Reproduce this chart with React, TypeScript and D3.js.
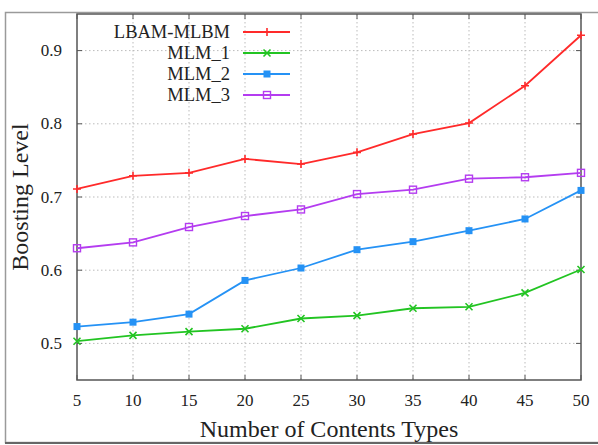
import React, { useEffect, useRef } from "react";
import * as d3 from "d3";

const contentTypes = [5, 10, 15, 20, 25, 30, 35, 40, 45, 50];
const lbamMlbm = [0.711, 0.729, 0.733, 0.752, 0.745, 0.761, 0.786, 0.801, 0.852, 0.921];
const mlm1 = [0.503, 0.511, 0.516, 0.52, 0.534, 0.538, 0.548, 0.55, 0.569, 0.601];
const mlm2 = [0.523, 0.529, 0.54, 0.586, 0.603, 0.628, 0.639, 0.654, 0.67, 0.709];
const mlm3 = [0.63, 0.638, 0.659, 0.674, 0.683, 0.704, 0.71, 0.725, 0.727, 0.733];
const yTicks = [0.5, 0.6, 0.7, 0.8, 0.9];

const seriesList = [
  { name: "LBAM-MLBM", values: lbamMlbm, color: "#ff2a2a", marker: "plus" },
  { name: "MLM_1", values: mlm1, color: "#22c422", marker: "cross" },
  { name: "MLM_2", values: mlm2, color: "#2592f5", marker: "filled" },
  { name: "MLM_3", values: mlm3, color: "#b43cf0", marker: "open" },
];

const FONT = "'Liberation Serif', serif";

function drawMarker(g: any, type: string, x: number, y: number, color: string) {
  if (type === "plus") {
    g.append("path").attr("d", `M${x - 4},${y}H${x + 4}M${x},${y - 4}V${y + 4}`)
      .attr("stroke", color).attr("stroke-width", 1.6);
  } else if (type === "cross") {
    g.append("path").attr("d", `M${x - 3.5},${y - 3.5}L${x + 3.5},${y + 3.5}M${x - 3.5},${y + 3.5}L${x + 3.5},${y - 3.5}`)
      .attr("stroke", color).attr("stroke-width", 1.6);
  } else if (type === "filled") {
    g.append("rect").attr("x", x - 3.5).attr("y", y - 3.5).attr("width", 7).attr("height", 7)
      .attr("fill", color);
  } else {
    g.append("rect").attr("x", x - 3.5).attr("y", y - 3.5).attr("width", 7).attr("height", 7)
      .attr("fill", "none").attr("stroke", color).attr("stroke-width", 1.4);
  }
}

export default function App() {
  const ref = useRef<SVGSVGElement>(null);

  useEffect(() => {
    const svg = d3.select(ref.current);
    svg.selectAll("*").remove();

    const left = 77, right = 581, top = 14, bottom = 380;

    // outer frame
    svg.append("rect").attr("x", 5.5).attr("y", 12.5).attr("width", 600).attr("height", 430)
      .attr("fill", "white").attr("stroke", "#9a9a9a").attr("stroke-width", 1.5);
    svg.append("line").attr("x1", 5).attr("x2", 598).attr("y1", 443).attr("y2", 443)
      .attr("stroke", "#666").attr("stroke-width", 2);

    const x = d3.scaleLinear().domain([5, 50]).range([left, right]);
    const y = d3.scaleLinear().domain([0.45, 0.95]).range([bottom, top]);

    const grid = svg.append("g");
    contentTypes.slice(1, -1).forEach((t) => {
      grid.append("line").attr("x1", x(t)).attr("x2", x(t)).attr("y1", top).attr("y2", bottom)
        .attr("stroke", "#bbb").attr("stroke-dasharray", "1.5,2.5");
    });
    yTicks.forEach((t) => {
      grid.append("line").attr("x1", left).attr("x2", right).attr("y1", y(t)).attr("y2", y(t))
        .attr("stroke", "#bbb").attr("stroke-dasharray", "1.5,2.5");
    });

    // ticks
    const ticks = svg.append("g").attr("stroke", "#555").attr("stroke-width", 1);
    contentTypes.forEach((t) => {
      ticks.append("line").attr("x1", x(t)).attr("x2", x(t)).attr("y1", bottom).attr("y2", bottom - 5);
      ticks.append("line").attr("x1", x(t)).attr("x2", x(t)).attr("y1", top).attr("y2", top + 5);
    });
    yTicks.forEach((t) => {
      ticks.append("line").attr("x1", left).attr("x2", left + 5).attr("y1", y(t)).attr("y2", y(t));
      ticks.append("line").attr("x1", right).attr("x2", right - 5).attr("y1", y(t)).attr("y2", y(t));
    });

    svg.append("rect").attr("x", left).attr("y", top).attr("width", right - left).attr("height", bottom - top)
      .attr("fill", "none").attr("stroke", "#555").attr("stroke-width", 1.5);

    const txt = svg.append("g").style("font-family", FONT).attr("fill", "#222");
    contentTypes.forEach((t) => {
      txt.append("text").attr("x", x(t)).attr("y", 406).attr("text-anchor", "middle")
        .attr("font-size", 17).text(t);
    });
    yTicks.forEach((t) => {
      txt.append("text").attr("x", 62).attr("y", y(t) + 5.5).attr("text-anchor", "end")
        .attr("font-size", 17).text(d3.format(".1f")(t));
    });
    txt.append("text").attr("x", 329).attr("y", 437).attr("text-anchor", "middle")
      .attr("font-size", 24).text("Number of Contents Types");
    txt.append("text").attr("transform", `translate(28,${(top + bottom) / 2}) rotate(-90)`)
      .attr("text-anchor", "middle").attr("font-size", 24).text("Boosting Level");

    const line = d3.line<number>().x((_, i) => x(contentTypes[i])).y((d) => y(d));
    seriesList.forEach((s) => {
      const g = svg.append("g");
      g.append("path").attr("d", line(s.values)).attr("fill", "none")
        .attr("stroke", s.color).attr("stroke-width", 1.8);
      s.values.forEach((v, i) => drawMarker(g, s.marker, x(contentTypes[i]), y(v), s.color));
    });

    // legend
    seriesList.forEach((s, i) => {
      const ly = 32 + i * 21;
      const g = svg.append("g");
      g.append("text").attr("x", 230).attr("y", ly + 6).attr("text-anchor", "end")
        .style("font-family", FONT).attr("font-size", 18.5).attr("fill", "#222").text(s.name);
      g.append("line").attr("x1", 243).attr("x2", 290).attr("y1", ly).attr("y2", ly)
        .attr("stroke", s.color).attr("stroke-width", 1.8);
      drawMarker(g, s.marker, 267, ly, s.color);
    });
  }, []);

  return (
    <svg ref={ref} width={598} height={445}
      style={{ position: "absolute", left: 0, top: 0, background: "white" }} />
  );
}
